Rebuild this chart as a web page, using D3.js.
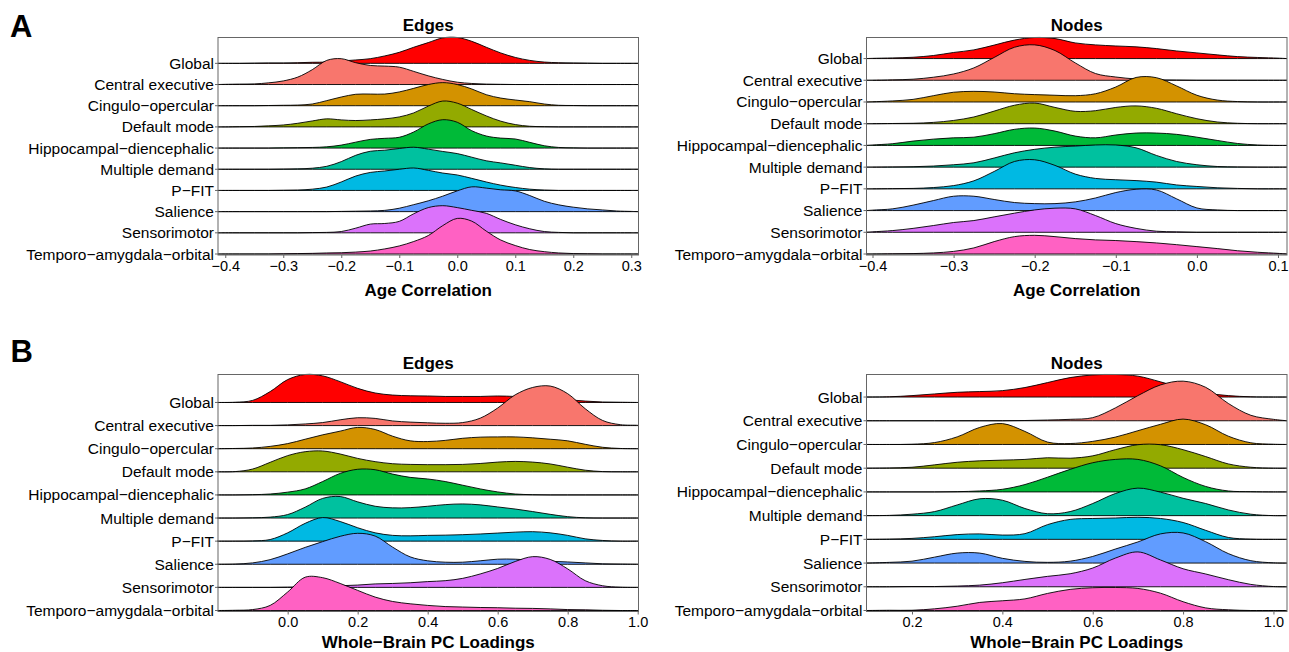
<!DOCTYPE html>
<html>
<head>
<meta charset="utf-8">
<script src="https://cdn.jsdelivr.net/npm/d3@7"></script>
<style>
  body { margin: 0; background: #fff; }
  text { font-family: "Liberation Sans", Arial, sans-serif; fill: #000; }
</style>
</head>
<body>
<div id="chart"></div>
<script>
//row names, top to bottom, and the ggplot hue colours (Global is plain red)
var categories = ["Global", "Central executive", "Cingulo\u2212opercular", "Default mode",
  "Hippocampal\u2212diencephalic", "Multiple demand", "P\u2212FIT", "Salience",
  "Sensorimotor", "Temporo\u2212amygdala\u2212orbital"];
var ridgeColors = ["#FF0000", "#F8766D", "#D39200", "#93AA00", "#00BA38",
  "#00C19F", "#00B9E3", "#619CFF", "#DB72FB", "#FF61C3"];

//A / Edges : density heights (in row units) at each x
var ageEdgesX = [-0.4, -0.375, -0.35, -0.325, -0.3, -0.275, -0.25, -0.225, -0.2, -0.175, -0.15, -0.125, -0.1, -0.075,
  -0.05, -0.025, 0, 0.025, 0.05, 0.075, 0.1, 0.125, 0.15, 0.175, 0.2, 0.225, 0.25, 0.275, 0.3];
var ageEdges = [
  [0, 0, .01, .02, .02, .03, .05, .06, .11, .16, .22, .35, .52, .76, .98, 1.2, 1.22, 1.04, .76, .49, .28, .14, .06, .03, .02, .01, 0, 0, 0],
  [.01, .02, .03, .08, .17, .35, .70, 1.14, 1.22, 1.03, .90, .87, .82, .62, .41, .24, .11, .05, .02, .01, 0, 0, 0, 0, 0, 0, 0, 0, 0],
  [0, 0, 0, .01, .02, .03, .08, .24, .41, .54, .55, .55, .65, .82, 1.0, 1.09, 1.0, .79, .52, .36, .27, .19, .08, .02, .01, 0, 0, 0, 0],
  [0, .01, .02, .05, .09, .17, .28, .38, .33, .30, .33, .38, .47, .66, .98, 1.22, 1.12, .82, .52, .27, .11, .03, .01, 0, 0, 0, 0, 0, 0],
  [0, 0, 0, 0, .01, .02, .03, .06, .14, .28, .41, .46, .51, .76, 1.14, 1.34, 1.22, .82, .57, .47, .43, .27, .11, .03, .01, 0, 0, 0, 0],
  [0, 0, 0, 0, .01, .02, .05, .14, .36, .66, .85, .90, .98, 1.04, .95, .84, .74, .57, .40, .30, .19, .08, .02, 0, 0, 0, 0, 0, 0],
  [0, 0, 0, 0, .01, .02, .06, .16, .40, .68, .85, .92, 1.0, 1.06, .95, .82, .73, .57, .40, .25, .14, .06, .02, 0, 0, 0, 0, 0, 0],
  [0, 0, 0, 0, 0, 0, 0, 0, .01, .02, .03, .06, .16, .33, .51, .73, .98, 1.17, 1.11, 1.03, .98, .76, .49, .32, .21, .13, .08, .03, .01],
  [0, 0, 0, 0, 0, 0, .01, .02, .06, .22, .41, .44, .54, .90, 1.19, 1.28, 1.19, 1.06, .92, .63, .38, .19, .06, .02, 0, 0, 0, 0, 0],
  [0, 0, 0, 0, .01, .02, .03, .05, .06, .09, .14, .24, .38, .59, .87, 1.34, 1.68, 1.55, 1.08, .66, .40, .21, .11, .05, .02, .01, 0, 0, 0]
];
var ageEdgesTicks = [-0.4, -0.3, -0.2, -0.1, 0, 0.1, 0.2, 0.3];

//A / Nodes
var ageNodesX = [-0.4, -0.375, -0.35, -0.325, -0.3, -0.275, -0.25, -0.225, -0.2, -0.175, -0.15, -0.125, -0.1, -0.075,
  -0.05, -0.025, 0, 0.025, 0.05, 0.075, 0.1];
var ageNodes = [
  [.01, .03, .06, .14, .28, .40, .62, .85, .97, .92, .72, .63, .58, .54, .46, .35, .26, .17, .09, .05, .02],
  [0, .02, .05, .14, .29, .57, 1.05, 1.52, 1.63, 1.37, .80, .31, .15, .06, .02, .01, 0, 0, 0, 0, 0],
  [.01, .05, .12, .29, .45, .49, .46, .38, .34, .31, .29, .38, .69, 1.13, 1.12, .74, .31, .09, .02, 0, 0],
  [0, .01, .02, .06, .15, .31, .58, .85, .95, .75, .57, .60, .75, .82, .71, .46, .23, .08, .02, 0, 0],
  [.02, .08, .20, .29, .35, .38, .54, .74, .80, .66, .43, .35, .48, .57, .57, .51, .38, .23, .09, .02, 0],
  [0, .01, .02, .05, .11, .20, .42, .66, .82, .92, .97, 1.02, 1.02, .89, .54, .26, .11, .03, .01, 0, 0],
  [0, .01, .02, .06, .15, .37, .80, 1.26, 1.34, 1.08, .68, .48, .42, .38, .31, .18, .11, .05, .02, 0, 0],
  [.02, .08, .25, .46, .66, .66, .51, .37, .32, .32, .40, .58, .83, .98, .95, .54, .12, .03, 0, 0, 0],
  [.02, .08, .18, .31, .45, .54, .71, .88, 1.03, 1.11, 1.08, .77, .40, .18, .05, .02, 0, 0, 0, 0, 0],
  [0, .01, .02, .05, .12, .28, .57, .80, .86, .80, .71, .65, .62, .57, .51, .43, .34, .25, .15, .08, .03]
];
var ageNodesTicks = [-0.4, -0.3, -0.2, -0.1, 0, 0.1];

//B / Edges
var loadEdgesX = [-0.2, -0.15, -0.1, -0.05, 0, 0.05, 0.1, 0.15, 0.2, 0.25, 0.3, 0.35, 0.4, 0.45, 0.5, 0.55, 0.6,
  0.65, 0.7, 0.75, 0.8, 0.85, 0.9, 0.95, 1.0];
var loadEdges = [
  [0, .01, .09, .47, .99, 1.21, 1.15, .90, .61, .41, .32, .29, .28, .26, .26, .26, .28, .26, .23, .19, .12, .06, .02, .01, 0],
  [0, 0, .01, .01, .03, .07, .13, .25, .34, .31, .20, .15, .12, .10, .13, .32, .76, 1.33, 1.65, 1.71, 1.38, .73, .22, .04, .01],
  [0, .01, .03, .10, .22, .41, .60, .76, .92, .83, .54, .34, .31, .36, .45, .50, .51, .51, .47, .41, .34, .19, .06, .01, 0],
  [0, .01, .12, .41, .70, .87, .90, .77, .58, .44, .35, .32, .31, .31, .32, .36, .42, .45, .42, .34, .20, .07, .01, 0, 0],
  [0, 0, .01, .04, .12, .26, .58, .93, 1.11, 1.09, .90, .76, .69, .58, .42, .26, .13, .04, .01, 0, 0, 0, 0, 0, 0],
  [0, 0, .01, .04, .15, .47, .85, .93, .70, .51, .44, .45, .51, .58, .61, .57, .48, .39, .28, .16, .06, .01, 0, 0, 0],
  [0, 0, .01, .07, .36, .77, 1.02, .85, .58, .36, .25, .23, .25, .26, .28, .31, .35, .39, .41, .36, .25, .10, .03, 0, 0],
  [0, .01, .06, .20, .45, .73, .98, 1.21, 1.34, 1.22, .74, .32, .15, .09, .09, .15, .22, .22, .17, .13, .10, .06, .02, .01, 0],
  [0, 0, 0, 0, .01, .02, .04, .07, .10, .15, .17, .20, .25, .29, .39, .58, .82, 1.12, 1.33, 1.21, .80, .29, .07, .01, 0],
  [0, .01, .04, .22, .80, 1.44, 1.42, 1.17, .87, .58, .39, .29, .22, .17, .15, .13, .12, .10, .09, .07, .04, .03, .01, 0, 0]
];
var loadEdgesTicks = [0, 0.2, 0.4, 0.6, 0.8, 1.0];

//B / Nodes
var loadNodesX = [0.1, 0.15, 0.2, 0.25, 0.3, 0.35, 0.4, 0.45, 0.5, 0.55, 0.6, 0.65, 0.7, 0.75, 0.8, 0.85, 0.9, 0.95, 1.0];
var loadNodes = [
  [0, .01, .06, .13, .20, .23, .27, .40, .61, .82, .93, .95, .88, .64, .37, .17, .06, .01, 0],
  [0, 0, 0, 0, 0, 0, 0, .01, .03, .06, .13, .54, 1.06, 1.51, 1.67, 1.41, .73, .23, .06],
  [0, 0, .01, .08, .32, .72, .88, .55, .10, .04, .13, .31, .58, .85, 1.07, .83, .35, .07, .01],
  [0, .01, .04, .14, .25, .31, .34, .37, .44, .42, .52, .78, .99, .99, .78, .49, .18, .04, 0],
  [0, 0, 0, 0, .01, .04, .11, .31, .62, .95, 1.23, 1.37, 1.37, 1.10, .61, .23, .04, .01, 0],
  [0, .01, .06, .17, .45, .71, .65, .30, .08, .17, .51, .93, 1.16, .99, .73, .51, .24, .06, 0],
  [0, .01, .04, .11, .20, .23, .18, .24, .62, .84, .88, .90, .93, .88, .71, .38, .08, .01, 0],
  [0, .03, .08, .25, .42, .42, .20, .07, .03, .08, .28, .59, .89, 1.23, 1.27, .90, .40, .10, .01],
  [0, 0, .01, .01, .03, .07, .17, .31, .44, .55, .79, 1.21, 1.47, 1.13, .76, .54, .30, .10, .01],
  [0, .01, .01, .07, .18, .34, .41, .49, .72, .89, .96, .97, .93, .73, .37, .11, .03, 0, 0]
];
var loadNodesTicks = [0.2, 0.4, 0.6, 0.8, 1.0];

var w = 1289,
    h = 652;

var svg = d3.select("div#chart").append("svg")
  .attr("width", w)
  .attr("height", h);

//panel letters
svg.append("text").attr("x", 10).attr("y", 36.5)
  .style("font-size", "31px").style("font-weight", "bold").text("A");
svg.append("text").attr("x", 10.5).attr("y", 361.5)
  .style("font-size", "31px").style("font-weight", "bold").text("B");

//one ridgeline panel
function ridges(p) {
  var g = svg.append("g");
  var n = categories.length;

  var x = d3.scaleLinear().domain(p.xDomain).range([p.left, p.right]);

  //row i sits at n-1-i, the tallest ridge touches the top of the box
  var topVal = d3.max(p.dens, function(row, i) { return (n - 1 - i) + d3.max(row); });
  var y = d3.scaleLinear().domain([0, topVal]).range([p.bottom - 1, p.top]);

  p.dens.forEach(function(row, i) {
    var base = n - 1 - i;
    var pts = [[p.xDomain[0], 0]].concat(p.xs.map(function(v, j) { return [v, row[j]]; }), [[p.xDomain[1], 0]]);
    var area = d3.area()
      .x(function(d) { return x(d[0]); })
      .y0(y(base))
      .y1(function(d) { return y(base + d[1]); })
      .curve(d3.curveCatmullRom.alpha(0.5));

    g.append("path")
      .datum(pts)
      .attr("d", area)
      .style("fill", ridgeColors[i])
      .style("stroke", "#000")
      .style("stroke-width", 0.9);

    //row label + small tick
    g.append("line")
      .attr("x1", p.left - 3).attr("x2", p.left)
      .attr("y1", y(base)).attr("y2", y(base))
      .style("stroke", "#666").style("stroke-width", 1);
    g.append("text")
      .attr("x", p.left - 4)
      .attr("y", y(base) + 5.5)
      .attr("text-anchor", "end")
      .style("font-size", "15.5px")
      .text(categories[i]);
  });

  //panel border
  g.append("rect")
    .attr("x", p.left).attr("y", p.top)
    .attr("width", p.right - p.left).attr("height", p.bottom - p.top)
    .style("fill", "none").style("stroke", "#666").style("stroke-width", 1);

  var axis = d3.axisBottom(x)
    .tickValues(p.ticks)
    .tickSize(3)
    .tickPadding(2.5)
    .tickFormat(d3.format(".1f"));

  var ax = g.append("g")
    .attr("transform", "translate(0," + p.bottom + ")")
    .call(axis);
  ax.select(".domain").remove();
  ax.selectAll(".tick line").style("stroke", "#666");
  ax.selectAll(".tick text")
    .style("font-size", "14.5px")
    .style("font-family", "'Liberation Sans', Arial, sans-serif")
    .style("fill", "#000");

  //titles
  g.append("text")
    .attr("x", (p.left + p.right) / 2).attr("y", p.titleY)
    .attr("text-anchor", "middle")
    .style("font-size", "17px").style("font-weight", "bold")
    .text(p.title);
  g.append("text")
    .attr("x", (p.left + p.right) / 2).attr("y", p.xTitleY)
    .attr("text-anchor", "middle")
    .style("font-size", "17px").style("font-weight", "bold")
    .text(p.xTitle);
}

ridges({ xs: ageEdgesX, dens: ageEdges, ticks: ageEdgesTicks, xDomain: [-0.4125, 0.3125],
  left: 218, right: 638.5, top: 37.5, bottom: 255, title: "Edges", titleY: 31,
  xTitle: "Age Correlation", xTitleY: 295.5 });
ridges({ xs: ageNodesX, dens: ageNodes, ticks: ageNodesTicks, xDomain: [-0.4074, 0.1111],
  left: 866.5, right: 1287, top: 37.5, bottom: 255, title: "Nodes", titleY: 31,
  xTitle: "Age Correlation", xTitleY: 295.5 });
ridges({ xs: loadEdgesX, dens: loadEdges, ticks: loadEdgesTicks, xDomain: [-0.199, 1.0023],
  left: 218, right: 638.5, top: 374.5, bottom: 611.5, title: "Edges", titleY: 369,
  xTitle: "Whole\u2212Brain PC Loadings", xTitleY: 647.5 });
ridges({ xs: loadNodesX, dens: loadNodes, ticks: loadNodesTicks, xDomain: [0.0993, 1.03],
  left: 866.5, right: 1287, top: 374.5, bottom: 611.5, title: "Nodes", titleY: 369,
  xTitle: "Whole\u2212Brain PC Loadings", xTitleY: 647.5 });
</script>
</body>
</html>
